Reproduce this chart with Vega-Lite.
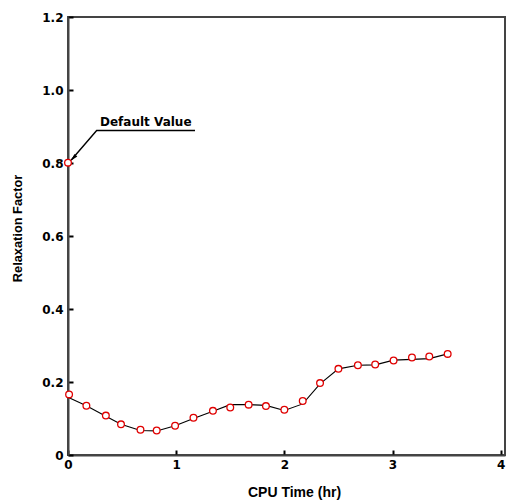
{
  "$schema": "https://vega.github.io/schema/vega-lite/v6.json",
  "autosize": "none",
  "width": 437,
  "height": 438,
  "padding": {"left": 68, "top": 17, "right": 2, "bottom": 47},
  "background": "white",
  "config": {
    "font": "Liberation Sans",
    "view": {"stroke": "#444444", "strokeWidth": 2},
    "axis": {
      "grid": false,
      "domainColor": "#444444",
      "domainWidth": 2,
      "tickColor": "#000000",
      "tickWidth": 2,
      "tickSize": -5,
      "labelFlush": false,
      "labelFont": "DejaVu Sans",
      "labelFontWeight": "bold",
      "labelFontSize": 12,
      "labelColor": "#000000",
      "titleFont": "Liberation Sans",
      "titleFontWeight": "bold",
      "titleColor": "#000000"
    }
  },
  "datasets": {
    "pts": [
      {"t": 0.0, "r": 0.801},
      {"t": 0.01, "r": 0.166},
      {"t": 0.17, "r": 0.135},
      {"t": 0.35, "r": 0.108},
      {"t": 0.49, "r": 0.084},
      {"t": 0.67, "r": 0.069},
      {"t": 0.82, "r": 0.067},
      {"t": 0.99, "r": 0.080},
      {"t": 1.16, "r": 0.102},
      {"t": 1.34, "r": 0.121},
      {"t": 1.50, "r": 0.130},
      {"t": 1.67, "r": 0.138},
      {"t": 1.83, "r": 0.134},
      {"t": 2.00, "r": 0.124},
      {"t": 2.17, "r": 0.148},
      {"t": 2.33, "r": 0.197},
      {"t": 2.50, "r": 0.236},
      {"t": 2.68, "r": 0.246},
      {"t": 2.84, "r": 0.248},
      {"t": 3.01, "r": 0.259},
      {"t": 3.18, "r": 0.267},
      {"t": 3.34, "r": 0.270},
      {"t": 3.51, "r": 0.277}
    ],
    "curve": [
      {"t": 0.0, "r": 0.158},
      {"t": 0.17, "r": 0.135},
      {"t": 0.35, "r": 0.106},
      {"t": 0.49, "r": 0.084},
      {"t": 0.67, "r": 0.067},
      {"t": 0.82, "r": 0.066},
      {"t": 0.99, "r": 0.080},
      {"t": 1.16, "r": 0.100},
      {"t": 1.34, "r": 0.120},
      {"t": 1.50, "r": 0.138},
      {"t": 1.67, "r": 0.138},
      {"t": 1.83, "r": 0.136},
      {"t": 2.00, "r": 0.122},
      {"t": 2.17, "r": 0.140},
      {"t": 2.33, "r": 0.195},
      {"t": 2.50, "r": 0.236},
      {"t": 2.68, "r": 0.246},
      {"t": 2.84, "r": 0.247},
      {"t": 3.01, "r": 0.260},
      {"t": 3.18, "r": 0.262},
      {"t": 3.34, "r": 0.264},
      {"t": 3.51, "r": 0.277}
    ],
    "leader": [
      {"t": 0.03, "r": 0.808, "o": 1},
      {"t": 0.265, "r": 0.889, "o": 2},
      {"t": 1.174, "r": 0.889, "o": 3}
    ],
    "label": [
      {"t": 0.296, "r": 0.901, "txt": "Default Value"}
    ],
    "tip": [
      {"t": 0.026, "r": 0.806}
    ]
  },
  "encoding": {
    "x": {
      "field": "t", "type": "quantitative",
      "scale": {"domain": [0, 4.04], "nice": false, "zero": false},
      "axis": {"values": [0, 1, 2, 3, 4], "title": "CPU Time (hr)", "titleFontSize": 14, "labelPadding": 9,
        "titleX": 226, "titleY": 41, "titleBaseline": "alphabetic", "titleAlign": "center", "format": "d"}
    },
    "y": {
      "field": "r", "type": "quantitative",
      "scale": {"domain": [0, 1.2], "nice": false},
      "axis": {"values": [0, 0.2, 0.4, 0.6, 0.8, 1.0, 1.2], "title": "Relaxation Factor", "titleFontSize": 12.8, "labelPadding": 10,
        "titleX": -51, "titleY": 211, "titleAngle": -90, "titleBaseline": "middle", "titleAlign": "center",
        "labelExpr": "datum.value == 0 ? '0' : format(datum.value, '.1f')"}
    }
  },
  "layer": [
    {
      "data": {"name": "curve"},
      "mark": {"type": "line", "color": "#000000", "strokeWidth": 1.1},
      "encoding": {}
    },
    {
      "data": {"name": "leader"},
      "mark": {"type": "line", "color": "#000000", "strokeWidth": 1.4},
      "encoding": {"order": {"field": "o"}}
    },
    {
      "data": {"name": "pts"},
      "mark": {"type": "point", "shape": "circle", "filled": false, "fill": "white", "stroke": "#e00000", "strokeWidth": 1.3, "size": 45, "opacity": 1},
      "encoding": {}
    },
    {
      "data": {"name": "tip"},
      "mark": {"type": "point", "shape": "M0,0 L0.4,1.6 L-0.4,1.6 Z", "filled": true, "color": "#000000", "size": 90, "angle": 222, "opacity": 1},
      "encoding": {}
    },
    {
      "data": {"name": "label"},
      "mark": {"type": "text", "align": "left", "baseline": "alphabetic", "font": "DejaVu Sans", "fontWeight": "bold", "fontSize": 12, "color": "#000000"},
      "encoding": {"text": {"field": "txt"}}
    }
  ]
}
